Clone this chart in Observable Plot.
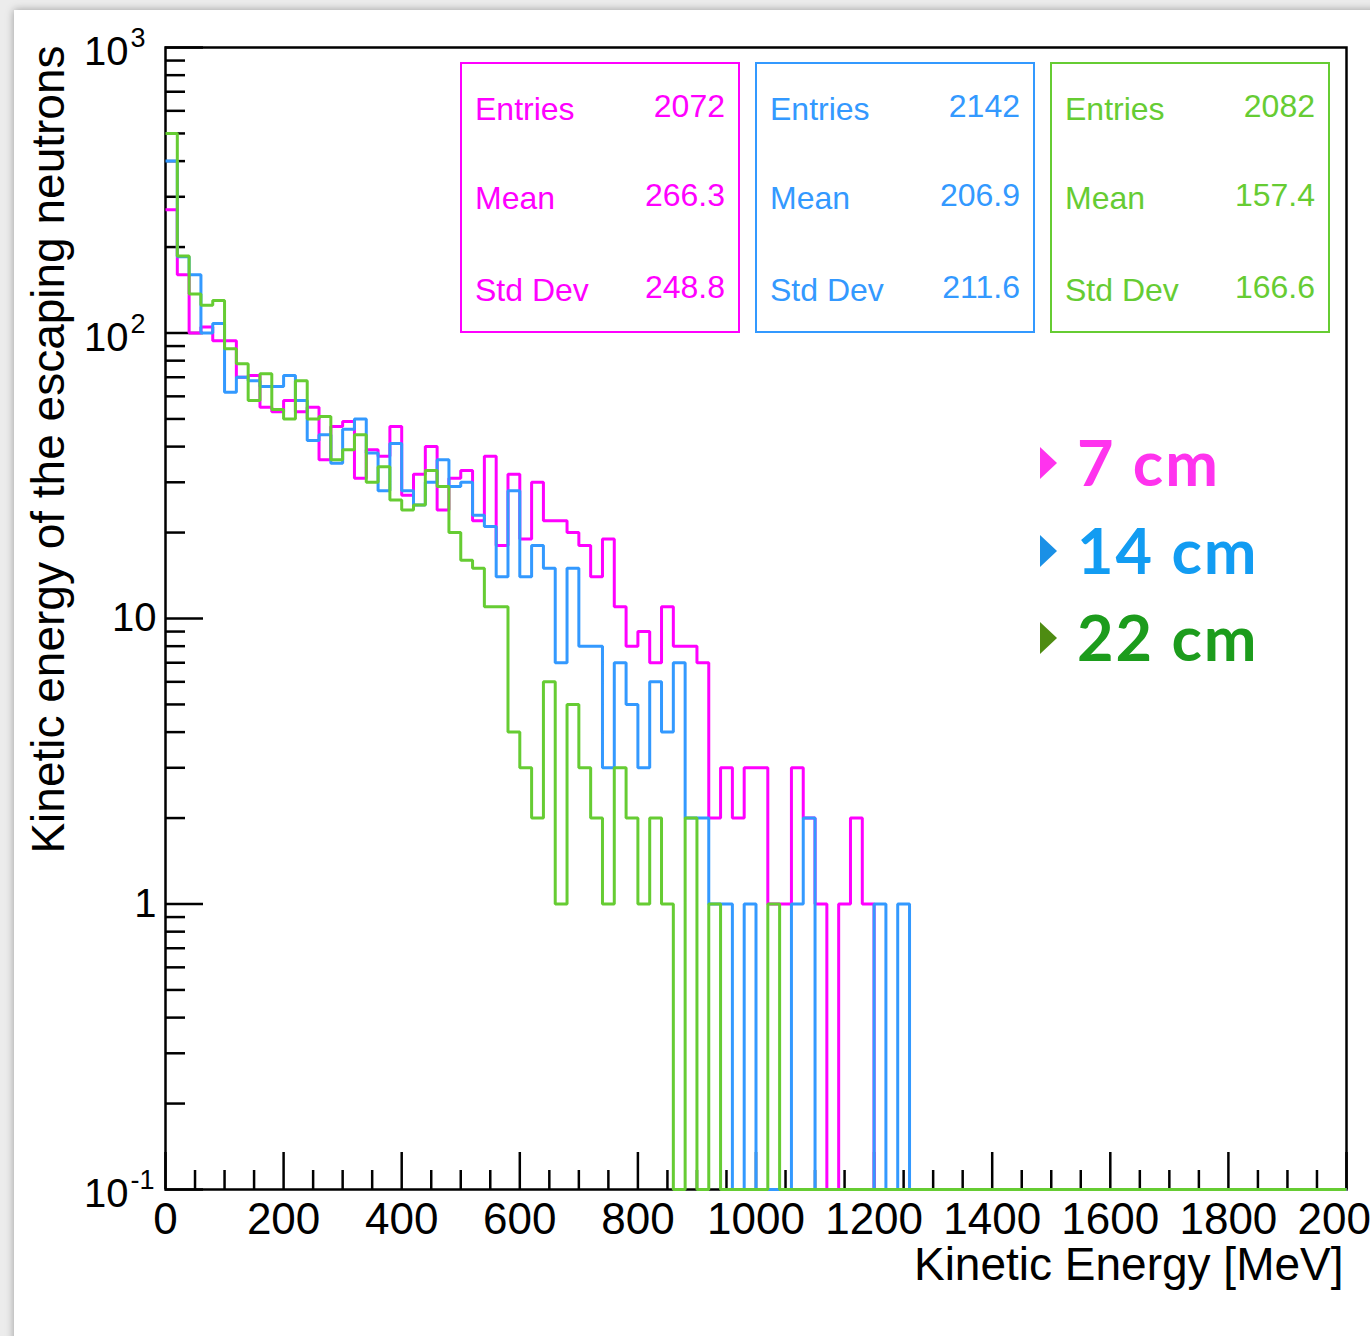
<!DOCTYPE html>
<html>
<head>
<meta charset="utf-8">
<script src="https://cdn.jsdelivr.net/npm/d3@7"></script>
<script src="https://cdn.jsdelivr.net/npm/@observablehq/plot@0.6"></script>
<style>
  html, body { margin: 0; padding: 0; width: 1370px; height: 1336px; overflow: hidden; background: #ececec;
    font-family: "Liberation Sans", Arial, Helvetica, sans-serif; }
  #card { position: absolute; left: 14px; top: 10px; width: 1420px; height: 1420px; background: #fff;
    box-shadow: 0 0 8px rgba(0,0,0,0.35); }
  #chart { position: absolute; left: 0; top: 0; }
  #overlay { position: absolute; left: 0; top: 0; width: 1370px; height: 1336px; pointer-events: none; }
  .stat { position: absolute; box-sizing: border-box; border: 2.5px solid; }
  .stat .row { position: absolute; left: 13px; right: 13px; height: 40px; font-size: 32px; line-height: 40px; }
  .stat .lab { position: absolute; left: 0; top: 0; }
  .stat .val { position: absolute; right: 0; top: -3px; }
  .leg { position: absolute; font-family: Lato, "Noto Sans", sans-serif; font-weight: 700; font-size: 63px;
    line-height: 63px; white-space: nowrap; letter-spacing: 2px; }
  .tri { position: absolute; width: 0; height: 0; border-top: 16px solid transparent; border-bottom: 16px solid transparent; border-left: 17px solid; }
</style>
</head>
<body>
<div id="card"></div>
<div id="chart"></div>
<div id="overlay"></div>
<script>
// ---------- data ----------
const binWidth = 20;               // MeV, 100 bins from 0 to 2000
const xMin = 0, xMax = 2000;
const yMin = 0.1, yMax = 1000;

const seriesNames = ["7 cm", "14 cm", "22 cm"];
const lineColors = ["#ff00ff", "#3399ff", "#66cc33"];
const legendColors = ["#ff33ee", "#129cf2", "#1c9c1c"];
const legendMarkerColors = ["#ff33ee", "#1a90e6", "#4e8c12"];

// counts per 20 MeV bin
const counts7 = [
  270,160,100,105,94,94,70,71,55,53,
  58,53,55,36,47,49,31,39,37,47,
  27,32,40,24,31,33,22,37,18,32,
  19,30,22,22,20,18,14,19,11,8,
  9,7,11,8,8,7,2,3,2,3,
  3,1,1,3,2,1,0,1,2,1,
  0,0,0,0,0,0,0,0,0,0,
  0,0,0,0,0,0,0,0,0,0,
  0,0,0,0,0,0,0,0,0,0,
  0,0,0,0,0,0,0,0,0,0
];
const counts14 = [
  400,185,160,100,108,62,70,68,65,65,
  71,58,42,44,35,46,50,38,28,41,
  28,25,30,36,29,30,23,21,14,28,
  14,18,15,7,15,8,8,3,7,5,
  3,6,4,7,2,2,1,1,0,1,
  0,0,0,1,2,0,0,0,0,0,
  1,0,1,0,0,0,0,0,0,0,
  0,0,0,0,0,0,0,0,0,0,
  0,0,0,0,0,0,0,0,0,0,
  0,0,0,0,0,0,0,0,0,0
];
const counts22 = [
  500,186,137,125,130,88,78,58,72,54,
  50,68,50,51,36,39,44,30,34,26,
  24,25,33,29,20,16,15,11,11,4,
  3,2,6,1,5,3,2,1,3,2,
  1,2,1,0,2,0,1,0,0,0,
  0,1,0,0,0,0,0,0,0,0,
  0,0,0,0,0,0,0,0,0,0,
  0,0,0,0,0,0,0,0,0,0,
  0,0,0,0,0,0,0,0,0,0,
  0,0,0,0,0,0,0,0,0,0
];
const allCounts = [counts7, counts14, counts22];

const statEntries = ["2072", "2142", "2082"];
const statMeans = ["266.3", "206.9", "157.4"];
const statStdDevs = ["248.8", "211.6", "166.6"];

// axis ticks / labels
const xMajorTicks = [0, 200, 400, 600, 800, 1000, 1200, 1400, 1600, 1800, 2000];
const xMinorTicks = d3.range(50, 2000, 50).filter(v => v % 200 !== 0);
const yTickValues = [0.1, 1, 10, 100, 1000];
const yTickBase = ["10", "1", "10", "10", "10"];
const yTickExp = ["-1", "", "", "2", "3"];
const yMinorTicks = [0.2,0.3,0.4,0.5,0.6,0.7,0.8,0.9, 2,3,4,5,6,7,8,9, 20,30,40,50,60,70,80,90, 200,300,400,500,600,700,800,900];

const xTitle = "Kinetic Energy [MeV]";
const yTitle = "Kinetic energy of the escaping neutrons";

// ---------- layout ----------
const FONT = '"Liberation Sans", Arial, Helvetica, sans-serif';
const W = 1370, H = 1336;
const mL = 165, mR = 24, mT = 47, mB = 147;
const fw = W - mL - mR, fh = H - mT - mB;

function steps(vals) {
  const pts = vals.map((v, i) => ({x: xMin + i * binWidth, v}));
  pts.push({x: xMax, v: vals[vals.length - 1]});
  return pts;
}

const lineMarks = allCounts.map((vals, k) =>
  Plot.line(steps(vals), {
    x: "x", y: d => Math.max(d.v, yMin), curve: "step-after",
    stroke: lineColors[k], strokeWidth: 3, strokeLinejoin: "miter", strokeLinecap: "butt"
  })
);

const hasExp = (d, i) => yTickExp[i] !== "";
const noExp = (d, i) => yTickExp[i] === "";

const chart = Plot.plot({
  width: W, height: H,
  marginLeft: mL, marginRight: mR, marginTop: mT, marginBottom: mB,
  style: {background: "transparent", fontFamily: FONT, overflow: "visible", color: "#000"},
  x: {domain: [xMin, xMax], axis: null},
  y: {type: "log", domain: [yMin, yMax], axis: null},
  marks: [
    Plot.tickX(xMinorTicks, {x: d => d, insetTop: fh - 19, stroke: "#000", strokeWidth: 2.5}),
    Plot.tickX(xMajorTicks, {x: d => d, insetTop: fh - 37, stroke: "#000", strokeWidth: 2.5}),
    Plot.tickY(yMinorTicks, {y: d => d, insetRight: fw - 20, stroke: "#000", strokeWidth: 2.5}),
    Plot.tickY(yTickValues, {y: d => d, insetRight: fw - 38, stroke: "#000", strokeWidth: 2.5}),
    Plot.frame({stroke: "#000", strokeWidth: 2.5}),
    ...lineMarks,
    Plot.axisX({ticks: xMajorTicks, tickSize: 0, tickPadding: 13, fontSize: 44, label: null,
      tickFormat: d => String(d), fill: "#000"}),
    Plot.text(yTickValues, {filter: hasExp, y: d => d, frameAnchor: "left", text: (d, i) => yTickBase[i],
      textAnchor: "end", lineAnchor: "middle", dx: -37, dy: 5, fontSize: 40, fill: "#000"}),
    Plot.text(yTickValues, {filter: hasExp, y: d => d, frameAnchor: "left", text: (d, i) => yTickExp[i],
      textAnchor: "start", lineAnchor: "middle", dx: -35, dy: -9, fontSize: 27, fill: "#000"}),
    Plot.text(yTickValues, {filter: noExp, y: d => d, frameAnchor: "left", text: (d, i) => yTickBase[i],
      textAnchor: "end", lineAnchor: "middle", dx: -9, fontSize: 40, fill: "#000"}),
    Plot.text([xTitle], {frameAnchor: "bottom-right", textAnchor: "end", lineAnchor: "middle",
      dx: -3, dy: 76, fontSize: 46, fill: "#000"}),
    Plot.text([yTitle], {frameAnchor: "top-left", rotate: -90, textAnchor: "end", lineAnchor: "middle",
      dx: -116, dy: -2, fontSize: 46, fill: "#000"})
  ]
});
document.getElementById("chart").appendChild(chart);

// ---------- statistics boxes & legend (overlay) ----------
const overlay = d3.select("#overlay");
const boxLeft = [460, 755, 1050], boxTop = 62, boxW = 280, boxH = 271;
const rowTops = [25, 114, 206];
const rowLabels = ["Entries", "Mean", "Std Dev"];
seriesNames.forEach((name, k) => {
  const box = overlay.append("div").attr("class", "stat")
    .style("left", boxLeft[k] + "px").style("top", boxTop + "px")
    .style("width", boxW + "px").style("height", boxH + "px")
    .style("border-color", lineColors[k]).style("color", lineColors[k]);
  const vals = [statEntries[k], statMeans[k], statStdDevs[k]];
  rowLabels.forEach((lab, r) => {
    const row = box.append("div").attr("class", "row").style("top", rowTops[r] + "px");
    row.append("span").attr("class", "lab").text(lab);
    row.append("span").attr("class", "val").text(vals[r]);
  });
});

const legCenters = [463, 551, 638];
seriesNames.forEach((name, k) => {
  overlay.append("div").attr("class", "tri")
    .style("left", "1040px").style("top", (legCenters[k] - 16) + "px")
    .style("border-left-color", legendMarkerColors[k]);
  overlay.append("div").attr("class", "leg")
    .style("left", "1077px").style("top", (legCenters[k] - 33) + "px")
    .style("color", legendColors[k]).text(name);
});
</script>
</body>
</html>
